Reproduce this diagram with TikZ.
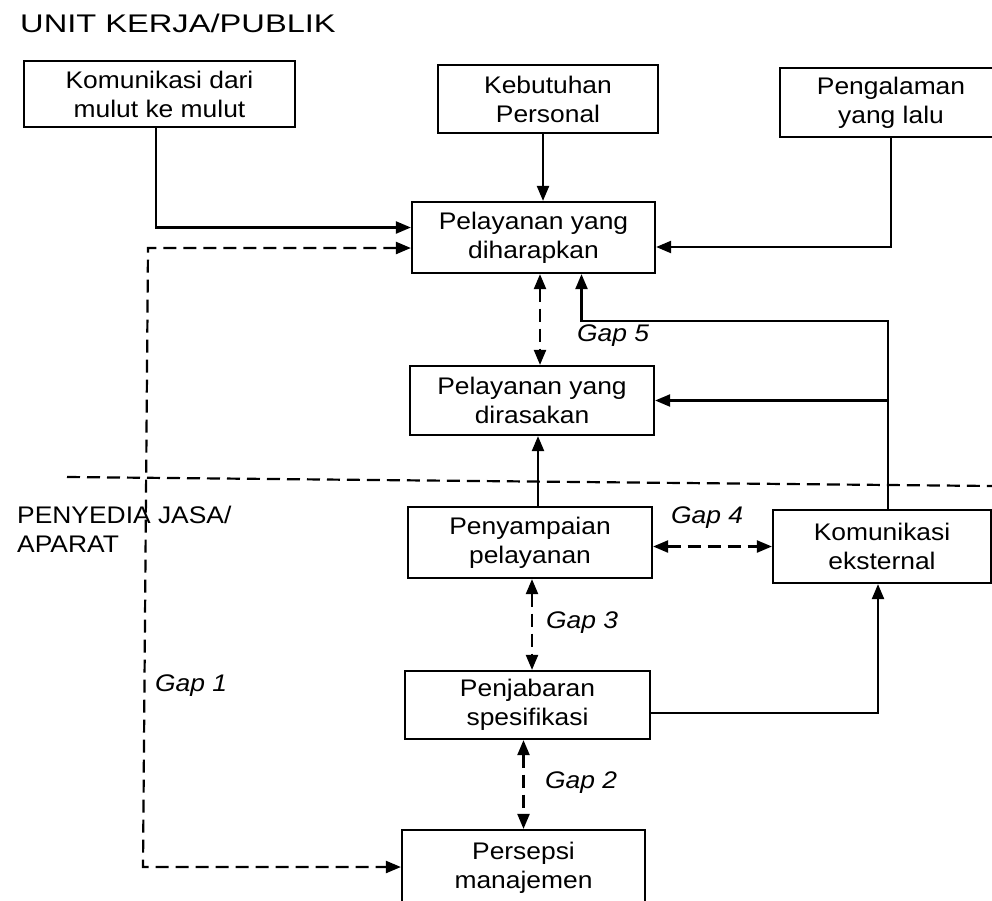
\documentclass[tikz,border=0pt]{standalone}
\usepackage{fontspec}
\setmainfont[FakeStretch=1.1]{Liberation Sans}
\newfontfamily\titlefont[FakeStretch=1.28]{Liberation Sans}
\usetikzlibrary{arrows.meta}

\begin{document}
\begin{tikzpicture}[x=1pt, y=-1pt,
    >={Triangle[length=15pt,width=12pt]},
    box/.style={draw, line width=2.2pt, align=center, inner sep=0pt,
        font=\fontsize{24}{29}\selectfont},
    line/.style={line width=2.2pt},
    dashline/.style={line width=2.2pt, dash pattern=on 13pt off 7pt},
    gaplbl/.style={font=\fontsize{24}{29}\selectfont\itshape, inner sep=0pt}]

        \useasboundingbox (0,0) rectangle (992,900);
        \clip (0,0) rectangle (992,900);

        % kotak-kotak
        \node[box, minimum width=271pt, minimum height=66pt] (komm) at (159.5,94) {Komunikasi dari\\mulut ke mulut};
        \node[box, minimum width=220pt, minimum height=68pt] (kebut) at (548,99) {Kebutuhan\\Personal};
        \node[box, minimum width=222pt, minimum height=69pt] (pengal) at (891,102.5) {Pengalaman\\yang lalu};
        \node[box, minimum width=243pt, minimum height=71pt] (harap) at (533.5,237.5) {Pelayanan yang\\diharapkan};
        \node[box, minimum width=244pt, minimum height=69pt] (rasa) at (532,400.5) {Pelayanan yang\\dirasakan};
        \node[box, minimum width=244pt, minimum height=71pt] (sampai) at (530,542.5) {Penyampaian\\pelayanan};
        \node[box, minimum width=218pt, minimum height=73pt] (ekst) at (882,546.5) {Komunikasi\\eksternal};
        \node[box, minimum width=245pt, minimum height=68pt] (jabar) at (527.5,705) {Penjabaran\\spesifikasi};
        \node[box, minimum width=243pt, minimum height=76pt] (persep) at (523.5,868) {Persepsi\\manajemen};

        \coordinate(g1top) at (148, 248);
        \coordinate(g1bot) at (143, 867);
        \coordinate(ekup) at (888, 321);
        \coordinate(batasL) at (67, 477);
        \coordinate(batasR) at (992, 486);

        % panah ke pelayanan yang diharapkan
        \draw[line, ->] ([xshift=-3.5pt]komm.south) |- ([yshift=10pt]harap.west);
        \draw[line, ->] ([xshift=-5pt]kebut.south) -- ([xshift=-5pt]kebut.south |- harap.north);
        \draw[line, ->] (pengal.south) |- ([yshift=-9.5pt]harap.east);
        \draw[line, ->] (ekst.north -| ekup) -- (ekup) -| ([xshift=48pt]harap.south);
        \draw[line, ->] (ekup |- rasa.east) -- (rasa.east);
        \draw[line, ->] ([xshift=8pt]sampai.north) -- ([xshift=8pt]sampai.north |- rasa.south);
        \draw[line, ->] ([yshift=-8pt]jabar.east) -| ([xshift=-4pt]ekst.south);

        % gap
        \draw[dashline, <->] (harap.west |- g1top) -- (g1top) -- (g1bot) -- (persep.west |- g1bot);
        \draw[dashline, <->] ([xshift=8pt]rasa.north |- harap.south) -- ([xshift=8pt]rasa.north);
        \draw[dashline, <->] (ekst.west -| sampai.east) -- (ekst.west);
        \draw[dashline, <->] ([xshift=2pt]sampai.south) -- ([xshift=2pt]sampai.south |- jabar.north);
        \draw[dashline, <->] (persep.north |- jabar.south) -- (persep.north);
        \draw[dashline] (batasL) -- (batasR);

        \node[gaplbl] (gap1) at (191, 686) {Gap 1};
        \node[gaplbl] (gap2) at (581, 783) {Gap 2};
        \node[gaplbl] (gap3) at (582, 623) {Gap 3};
        \node[gaplbl] (gap4) at (707, 518) {Gap 4};
        \node[gaplbl] (gap5) at (613, 336) {Gap 5};

        \node[anchor=base west, inner sep=0pt, font=\titlefont\fontsize{25.5}{30}\selectfont] (publik) at (20, 32) {UNIT KERJA/PUBLIK};
        \node[anchor=west, inner sep=0pt, align=left, font=\fontsize{24}{29}\selectfont] (aparat) at (17, 529) {PENYEDIA JASA/\\APARAT};

    \end{tikzpicture}
\end{document}
